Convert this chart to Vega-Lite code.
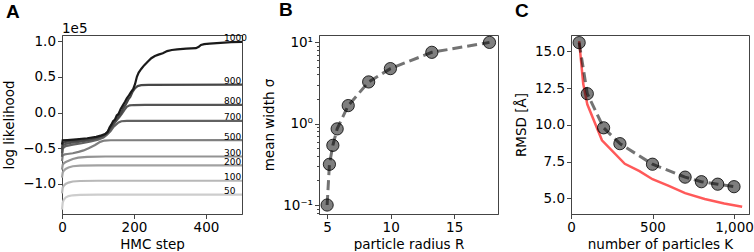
{
  "$schema": "https://vega.github.io/schema/vega-lite/v6.json",
  "padding": {"left": 2, "top": 0, "right": 0, "bottom": 0},
  "background": "white",
  "spacing": 14,
  "config": {
    "font": "DejaVu Sans",
    "view": {"stroke": "#444", "strokeWidth": 1},
    "axis": {"labelFont": "DejaVu Sans", "labelFontSize": 13.5, "labelColor": "black", "titleFont": "DejaVu Sans", "titleFontSize": 13.5, "titleFontWeight": "normal", "titleColor": "black", "grid": false, "domainColor": "#444", "tickColor": "#444", "tickSize": 4.5, "labelPadding": 2, "titlePadding": 5, "labelFlush": false, "labelOverlap": false},
    "axisX": {"titlePadding": 3},
    "title": {"font": "Liberation Sans", "fontSize": 19, "fontWeight": "bold", "anchor": "start", "frame": "group", "color": "black"}
  },
  "datasets": {
    "llh": [
      {"K":50,"step":0,"v":-1.36},{"K":50,"step":2,"v":-1.26},{"K":50,"step":5,"v":-1.22},{"K":50,"step":10,"v":-1.19},{"K":50,"step":18,"v":-1.17},{"K":50,"step":30,"v":-1.158},{"K":50,"step":50,"v":-1.152},{"K":50,"step":100,"v":-1.15},{"K":50,"step":500,"v":-1.15},
      {"K":100,"step":0,"v":-1.13},{"K":100,"step":2,"v":-1.05},{"K":100,"step":5,"v":-1.025},{"K":100,"step":10,"v":-1.0},{"K":100,"step":18,"v":-0.98},{"K":100,"step":30,"v":-0.965},{"K":100,"step":50,"v":-0.958},{"K":100,"step":100,"v":-0.955},{"K":100,"step":500,"v":-0.955},
      {"K":200,"step":0,"v":-0.91},{"K":200,"step":2,"v":-0.84},{"K":200,"step":5,"v":-0.815},{"K":200,"step":10,"v":-0.79},{"K":200,"step":18,"v":-0.77},{"K":200,"step":30,"v":-0.752},{"K":200,"step":50,"v":-0.744},{"K":200,"step":100,"v":-0.74},{"K":200,"step":500,"v":-0.74},
      {"K":300,"step":0,"v":-0.8},{"K":300,"step":2,"v":-0.73},{"K":300,"step":6,"v":-0.705},{"K":300,"step":12,"v":-0.69},{"K":300,"step":20,"v":-0.67},{"K":300,"step":30,"v":-0.65},{"K":300,"step":45,"v":-0.632},{"K":300,"step":70,"v":-0.62},{"K":300,"step":120,"v":-0.615},{"K":300,"step":500,"v":-0.615},
      {"K":500,"step":0,"v":-0.68},{"K":500,"step":2,"v":-0.6},{"K":500,"step":8,"v":-0.585},{"K":500,"step":15,"v":-0.58},{"K":500,"step":30,"v":-0.57},{"K":500,"step":46,"v":-0.55},{"K":500,"step":60,"v":-0.53},{"K":500,"step":74,"v":-0.5},{"K":500,"step":92,"v":-0.455},{"K":500,"step":106,"v":-0.41},{"K":500,"step":118,"v":-0.392},{"K":500,"step":135,"v":-0.388},{"K":500,"step":500,"v":-0.387},
      {"K":700,"step":0,"v":-0.62},{"K":700,"step":2,"v":-0.5},{"K":700,"step":10,"v":-0.47},{"K":700,"step":30,"v":-0.45},{"K":700,"step":55,"v":-0.43},{"K":700,"step":80,"v":-0.405},{"K":700,"step":100,"v":-0.38},{"K":700,"step":115,"v":-0.35},{"K":700,"step":125,"v":-0.31},{"K":700,"step":135,"v":-0.26},{"K":700,"step":143,"v":-0.2},{"K":700,"step":150,"v":-0.17},{"K":700,"step":157,"v":-0.14},{"K":700,"step":165,"v":-0.122},{"K":700,"step":180,"v":-0.117},{"K":700,"step":500,"v":-0.116},
      {"K":800,"step":0,"v":-0.57},{"K":800,"step":2,"v":-0.46},{"K":800,"step":10,"v":-0.44},{"K":800,"step":30,"v":-0.42},{"K":800,"step":55,"v":-0.405},{"K":800,"step":80,"v":-0.385},{"K":800,"step":100,"v":-0.36},{"K":800,"step":115,"v":-0.33},{"K":800,"step":125,"v":-0.29},{"K":800,"step":133,"v":-0.24},{"K":800,"step":140,"v":-0.19},{"K":800,"step":147,"v":-0.14},{"K":800,"step":153,"v":-0.1},{"K":800,"step":160,"v":-0.06},{"K":800,"step":167,"v":-0.01},{"K":800,"step":174,"v":0.04},{"K":800,"step":180,"v":0.08},{"K":800,"step":188,"v":0.1},{"K":800,"step":200,"v":0.105},{"K":800,"step":230,"v":0.108},{"K":800,"step":500,"v":0.108},
      {"K":900,"step":0,"v":-0.52},{"K":900,"step":2,"v":-0.43},{"K":900,"step":10,"v":-0.41},{"K":900,"step":30,"v":-0.4},{"K":900,"step":55,"v":-0.39},{"K":900,"step":80,"v":-0.37},{"K":900,"step":100,"v":-0.35},{"K":900,"step":115,"v":-0.32},{"K":900,"step":125,"v":-0.28},{"K":900,"step":132,"v":-0.23},{"K":900,"step":138,"v":-0.19},{"K":900,"step":145,"v":-0.13},{"K":900,"step":150,"v":-0.11},{"K":900,"step":157,"v":-0.05},{"K":900,"step":163,"v":-0.02},{"K":900,"step":170,"v":0.06},{"K":900,"step":177,"v":0.11},{"K":900,"step":184,"v":0.18},{"K":900,"step":190,"v":0.22},{"K":900,"step":196,"v":0.29},{"K":900,"step":203,"v":0.34},{"K":900,"step":210,"v":0.37},{"K":900,"step":220,"v":0.383},{"K":900,"step":240,"v":0.388},{"K":900,"step":500,"v":0.39},
      {"K":1000,"step":0,"v":-0.45},{"K":1000,"step":2,"v":-0.39},{"K":1000,"step":15,"v":-0.385},{"K":1000,"step":40,"v":-0.375},{"K":1000,"step":70,"v":-0.36},{"K":1000,"step":95,"v":-0.34},{"K":1000,"step":110,"v":-0.32},{"K":1000,"step":120,"v":-0.3},{"K":1000,"step":127,"v":-0.27},{"K":1000,"step":132,"v":-0.21},{"K":1000,"step":137,"v":-0.17},{"K":1000,"step":142,"v":-0.12},{"K":1000,"step":147,"v":-0.1},{"K":1000,"step":152,"v":-0.04},{"K":1000,"step":157,"v":-0.02},{"K":1000,"step":163,"v":0.05},{"K":1000,"step":169,"v":0.1},{"K":1000,"step":175,"v":0.15},{"K":1000,"step":180,"v":0.2},{"K":1000,"step":186,"v":0.24},{"K":1000,"step":192,"v":0.29},{"K":1000,"step":198,"v":0.33},{"K":1000,"step":203,"v":0.4},{"K":1000,"step":208,"v":0.5},{"K":1000,"step":213,"v":0.56},{"K":1000,"step":220,"v":0.61},{"K":1000,"step":228,"v":0.66},{"K":1000,"step":238,"v":0.71},{"K":1000,"step":248,"v":0.76},{"K":1000,"step":258,"v":0.79},{"K":1000,"step":268,"v":0.81},{"K":1000,"step":280,"v":0.83},{"K":1000,"step":292,"v":0.86},{"K":1000,"step":305,"v":0.875},{"K":1000,"step":320,"v":0.885},{"K":1000,"step":345,"v":0.895},{"K":1000,"step":372,"v":0.9},{"K":1000,"step":380,"v":0.92},{"K":1000,"step":386,"v":0.945},{"K":1000,"step":395,"v":0.958},{"K":1000,"step":410,"v":0.965},{"K":1000,"step":440,"v":0.975},{"K":1000,"step":470,"v":0.985},{"K":1000,"step":500,"v":0.99}
    ],
    "labels": [
      {"K":50,"v":-1.15},{"K":100,"v":-0.955},{"K":200,"v":-0.74},{"K":300,"v":-0.615},{"K":500,"v":-0.387},{"K":700,"v":-0.116},{"K":800,"v":0.108},{"K":900,"v":0.39},{"K":1000,"v":0.99}
    ],
    "sigma": [
      {"R":5.0,"s":0.1},{"R":5.18,"s":0.316},{"R":5.45,"s":0.54},{"R":5.79,"s":0.86},{"R":6.66,"s":1.66},{"R":8.27,"s":3.24},{"R":9.98,"s":4.72},{"R":13.24,"s":7.48},{"R":17.78,"s":9.9}
    ],
    "rmsd": [
      {"K":50,"r":15.6},{"K":100,"r":12.12},{"K":200,"r":9.8},{"K":300,"r":8.72},{"K":500,"r":7.32},{"K":700,"r":6.44},{"K":800,"r":6.13},{"K":900,"r":5.96},{"K":1000,"r":5.79}
    ],
    "theory": [
      {"K":50,"r":15.7},{"K":75,"r":12.8},{"K":100,"r":11.4},{"K":190,"r":8.95},{"K":330,"r":7.35},{"K":420,"r":6.85},{"K":500,"r":6.3},{"K":600,"r":5.85},{"K":700,"r":5.35},{"K":820,"r":4.95},{"K":940,"r":4.65},{"K":1050,"r":4.42}
    ]
  },
  "hconcat": [
    {
      "width": 180, "height": 179,
      "title": {"text": "A", "dx": -56, "offset": 0},
      "layer": [
        {
          "data": {"name": "llh"},
          "mark": {"type": "line", "strokeWidth": 2.2},
          "encoding": {
            "x": {"field": "step", "type": "quantitative", "scale": {"domain": [0, 500], "nice": false}, "axis": {"values": [0, 200, 400], "title": "HMC step"}},
            "y": {"field": "v", "type": "quantitative", "scale": {"domain": [-1.42, 1.085], "nice": false, "zero": false}, "axis": {"values": [-1, -0.5, 0, 0.5, 1], "format": ".1f", "title": "log likelihood", "titlePadding": 6}},
            "color": {"field": "K", "type": "ordinal", "scale": {"domain": [50, 100, 200, 300, 500, 700, 800, 900, 1000], "range": ["#cdcdcd", "#b8b8b8", "#a2a2a2", "#939393", "#7f7f7f", "#626262", "#555555", "#474747", "#1a1a1a"]}, "legend": null}
          }
        },
        {
          "data": {"name": "labels"},
          "mark": {"type": "text", "align": "left", "baseline": "alphabetic", "fontSize": 9, "font": "DejaVu Sans", "color": "black", "dy": -0.5},
          "encoding": {
            "x": {"datum": 450},
            "y": {"field": "v", "type": "quantitative"},
            "text": {"field": "K", "type": "nominal"}
          }
        },
        {
          "data": {"values": [{"t": "1e5"}]},
          "mark": {"type": "text", "align": "left", "baseline": "alphabetic", "fontSize": 13.5, "font": "DejaVu Sans", "color": "black", "dy": -2},
          "encoding": {
            "x": {"datum": 0},
            "y": {"datum": 1.085},
            "text": {"field": "t", "type": "nominal"}
          }
        }
      ]
    },
    {
      "width": 179, "height": 179,
      "title": {"text": "B", "dx": -40, "offset": 14},
      "data": {"name": "sigma"},
      "layer": [
        {
          "mark": {"type": "line", "color": "black", "opacity": 0.55, "strokeWidth": 3, "strokeDash": [10, 5]},
          "encoding": {
            "x": {"field": "R", "type": "quantitative", "scale": {"domain": [4.36, 18.45], "nice": false, "zero": false}, "axis": {"values": [5, 10, 15], "title": "particle radius R"}},
            "y": {"field": "s", "type": "quantitative", "scale": {"type": "log", "domain": [0.0776, 12.2], "nice": false}, "axis": {"values": [0.1, 1, 10], "labelExpr": "datum.value > 5 ? '10¹' : datum.value > 0.5 ? '10⁰' : '10⁻¹'", "title": "mean width σ", "titlePadding": 6}}
          }
        },
        {
          "mark": {"type": "point", "filled": true, "fill": "black", "fillOpacity": 0.5, "stroke": "black", "strokeOpacity": 0.8, "strokeWidth": 1, "size": 150, "opacity": 1},
          "encoding": {
            "x": {"field": "R", "type": "quantitative"},
            "y": {"field": "s", "type": "quantitative", "axis": {"orient": "left", "values": [0.08, 0.09, 0.2, 0.3, 0.4, 0.5, 0.6, 0.7, 0.8, 0.9, 2, 3, 4, 5, 6, 7, 8, 9], "labels": false, "domain": false, "tickSize": 2.5, "title": null}}
          }
        }
      ],
      "resolve": {"axis": {"y": "independent"}}
    },
    {
      "width": 178, "height": 179,
      "title": {"text": "C", "dx": -56, "offset": 14},
      "layer": [
        {
          "data": {"name": "theory"},
          "mark": {"type": "line", "color": "red", "opacity": 0.65, "strokeWidth": 2.5},
          "encoding": {
            "x": {"field": "K", "type": "quantitative", "scale": {"domain": [0, 1092], "nice": false}, "axis": {"values": [0, 500, 1000], "title": "number of particles K"}},
            "y": {"field": "r", "type": "quantitative", "scale": {"domain": [3.93, 16.12], "nice": false, "zero": false}, "axis": {"values": [5, 7.5, 10, 12.5, 15], "format": ".1f", "title": "RMSD [Å]", "titlePadding": 6}}
          }
        },
        {
          "data": {"name": "rmsd"},
          "mark": {"type": "line", "color": "black", "opacity": 0.55, "strokeWidth": 3, "strokeDash": [10, 5]},
          "encoding": {
            "x": {"field": "K", "type": "quantitative"},
            "y": {"field": "r", "type": "quantitative"}
          }
        },
        {
          "data": {"name": "rmsd"},
          "mark": {"type": "point", "filled": true, "fill": "black", "fillOpacity": 0.5, "stroke": "black", "strokeOpacity": 0.8, "strokeWidth": 1, "size": 150, "opacity": 1},
          "encoding": {
            "x": {"field": "K", "type": "quantitative"},
            "y": {"field": "r", "type": "quantitative"}
          }
        }
      ]
    }
  ]
}
